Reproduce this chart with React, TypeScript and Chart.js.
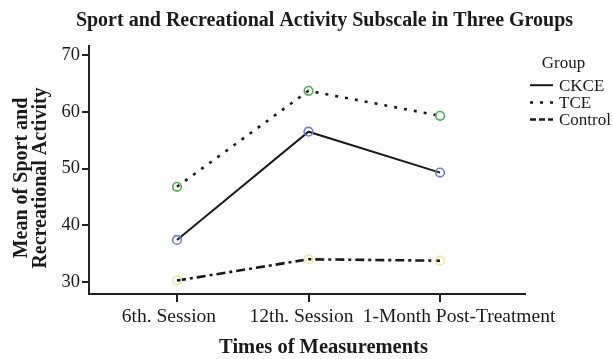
import React, { useEffect, useRef } from "react";
import { Chart, registerables } from "chart.js";

Chart.register(...registerables);

// ---- data ----
const categories = ["6th. Session", "12th. Session", "1-Month Post-Treatment"];
const seriesNames = ["CKCE", "TCE", "Control"];
const ckceValues = [37.45, 56.5, 49.3];
const tceValues = [46.8, 63.7, 59.3];
const controlValues = [30.3, 34.05, 33.8];
const yTickValues = [30, 40, 50, 60, 70];
const chartTitle = "Sport and Recreational Activity Subscale in Three Groups";
const xAxisTitle = "Times of Measurements";
const yAxisTitle = ["Mean of Sport and", "Recreational Activity"];
const legendTitle = "Group";

// ---- styles ----
const SERIF = '"Liberation Serif", "Times New Roman", serif';
const INK = "#1a1a1a";
const lineStyles = [
  { dash: [] as number[], width: 2, marker: "#6b7fd4", legendDash: [] as number[] },
  { dash: [3, 7], width: 2.6, marker: "#4caf50", legendDash: [3, 7] },
  { dash: [9, 4, 3, 4], width: 2.6, marker: "#ebe5a3", legendDash: [6, 3] },
];
const xLabelShift = [-8, -7, 19];

const textPlugin = {
  id: "customTexts",
  afterDraw(chart: any) {
    const ctx = chart.ctx as CanvasRenderingContext2D;
    const xs = chart.scales.x;
    ctx.save();
    ctx.fillStyle = INK;
    ctx.textBaseline = "alphabetic";

    // main title
    ctx.textAlign = "center";
    ctx.font = `bold 20px ${SERIF}`;
    ctx.fillText(chartTitle, 324.5, 26);

    // x tick labels
    ctx.font = `19.5px ${SERIF}`;
    categories.forEach((c, i) => {
      ctx.fillText(c, xs.getPixelForValue(i) + xLabelShift[i], 322);
    });

    // x axis title
    ctx.font = `bold 20.5px ${SERIF}`;
    ctx.fillText(xAxisTitle, 323.5, 353);

    // y axis title (rotated)
    ctx.font = `bold 20px ${SERIF}`;
    const baseX = [26.5, 46];
    yAxisTitle.forEach((t, i) => {
      ctx.save();
      ctx.translate(baseX[i], 178);
      ctx.rotate(-Math.PI / 2);
      ctx.textAlign = "center";
      ctx.fillText(t, 0, 0);
      ctx.restore();
    });

    // legend
    ctx.font = `17px ${SERIF}`;
    ctx.textAlign = "center";
    ctx.fillText(legendTitle, 563.5, 67.5);
    ctx.textAlign = "left";
    const baselines = [90.7, 108, 125];
    seriesNames.forEach((name, i) => {
      const st = lineStyles[i];
      ctx.save();
      ctx.strokeStyle = INK;
      ctx.lineWidth = i === 0 ? 2 : 2.4;
      ctx.setLineDash(st.legendDash);
      ctx.beginPath();
      ctx.moveTo(530, baselines[i] - 5.5);
      ctx.lineTo(553, baselines[i] - 5.5);
      ctx.stroke();
      ctx.restore();
      ctx.font = `17px ${SERIF}`;
      ctx.fillText(name, 559, baselines[i]);
    });
    ctx.restore();
  },
};

export default function App() {
  const canvasRef = useRef<HTMLCanvasElement | null>(null);

  useEffect(() => {
    if (!canvasRef.current) return;
    const seriesValues = [ckceValues, tceValues, controlValues];
    const chart = new Chart(canvasRef.current, {
      type: "line",
      data: {
        datasets: seriesNames.map((name, si) => ({
          label: name,
          data: seriesValues[si].map((v, i) => ({ x: i, y: v })),
          borderColor: INK,
          borderWidth: lineStyles[si].width,
          borderDash: lineStyles[si].dash,
          borderCapStyle: "butt",
          tension: 0,
          fill: false,
          pointStyle: "circle",
          pointRadius: 4.3,
          pointBorderWidth: 1.6,
          pointBorderColor: lineStyles[si].marker,
          pointBackgroundColor: "rgba(0,0,0,0)",
        })),
      },
      options: {
        responsive: false,
        animation: false,
        devicePixelRatio: 1,
        layout: { padding: { left: 0, right: 88, top: 46, bottom: 0 } },
        plugins: {
          legend: { display: false },
          title: { display: false },
          tooltip: { enabled: false },
        },
        scales: {
          x: {
            type: "linear",
            min: -0.669,
            max: 2.646,
            afterBuildTicks: (s: any) => {
              s.ticks = categories.map((_, i) => ({ value: i }));
            },
            afterFit: (s: any) => {
              s.height = 65;
            },
            ticks: { display: false },
            grid: {
              drawOnChartArea: false,
              drawTicks: true,
              tickLength: 8,
              color: "#222",
              lineWidth: 2,
            },
            border: { display: true, color: "#222", width: 2 },
          },
          y: {
            type: "linear",
            min: 27.94,
            max: 71.58,
            afterBuildTicks: (s: any) => {
              s.ticks = yTickValues.map((v) => ({ value: v }));
            },
            afterFit: (s: any) => {
              s.width = 89;
            },
            ticks: {
              padding: 2,
              color: INK,
              font: { family: SERIF, size: 18.5 },
              callback: (v: any) => String(v),
            },
            grid: {
              drawOnChartArea: false,
              drawTicks: true,
              tickLength: 7,
              color: "#222",
              lineWidth: 2,
            },
            border: { display: true, color: "#222", width: 2 },
          },
        },
      },
      plugins: [textPlugin],
    } as any);
    return () => chart.destroy();
  }, []);

  return (
    <div
      style={{
        position: "fixed",
        left: 0,
        top: 0,
        width: 613,
        height: 359,
        background: "#fff",
      }}
    >
      <canvas ref={canvasRef} width={613} height={359} style={{ display: "block" }} />
    </div>
  );
}
